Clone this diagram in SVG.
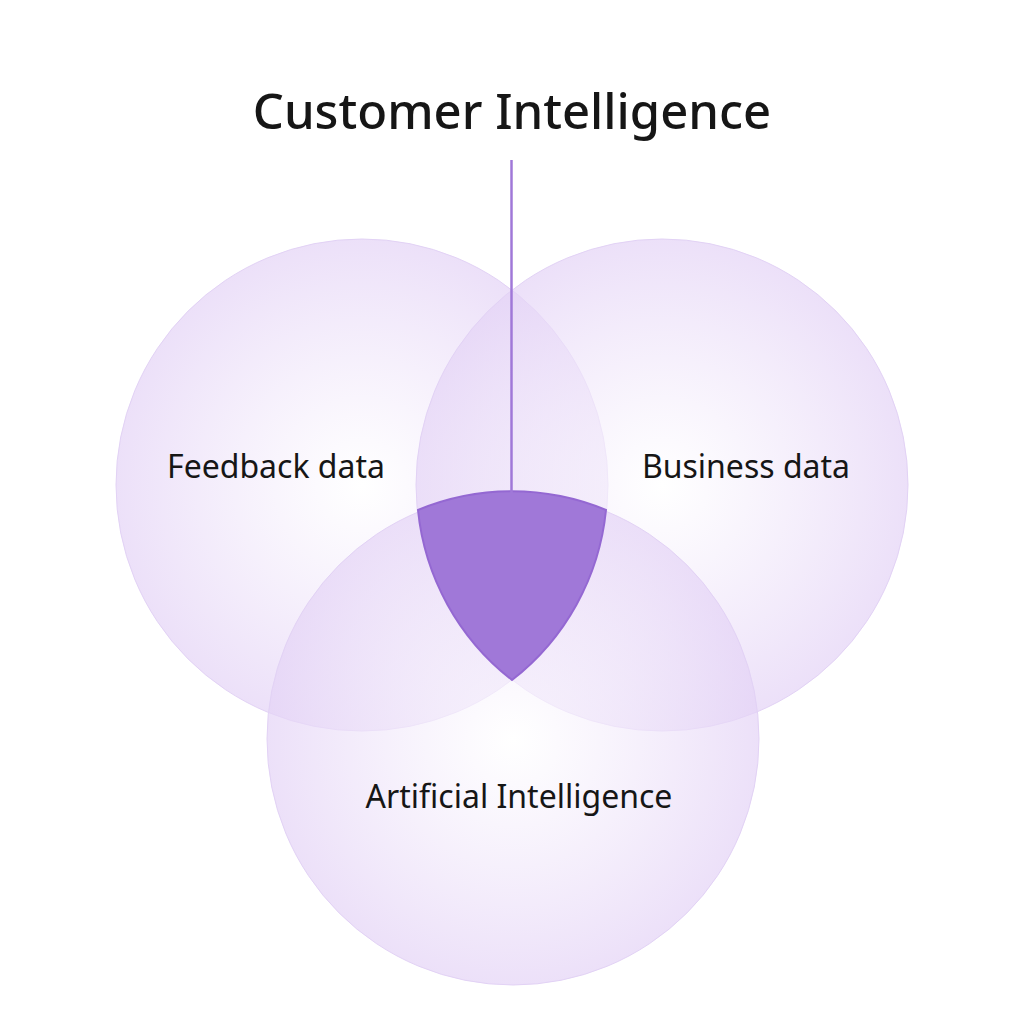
<svg xmlns="http://www.w3.org/2000/svg" width="1024" height="1024" viewBox="0 0 1024 1024">
<defs>
<radialGradient id="g" cx="0.5" cy="0.5" r="0.5">
<stop offset="0" stop-color="#ffffff" stop-opacity="0.6"/>
<stop offset="1" stop-color="#e4d3f6" stop-opacity="0.7"/>
</radialGradient>
<style>
.c{fill:url(#g);stroke:#e2d2f5;stroke-width:1}
.t{font-family:"Noto Sans","Inter",sans-serif;fill:#161616}
</style>
</defs>
<rect width="1024" height="1024" fill="#fff"/>
<g id="feedback"><circle class="c" cx="362" cy="485" r="246"/><text class="t" x="276" y="478" font-size="32" text-anchor="middle">Feedback data</text></g>
<g id="business"><circle class="c" cx="662" cy="485" r="246"/><text class="t" x="746" y="478" font-size="32" text-anchor="middle">Business data</text></g>
<g id="ai"><circle class="c" cx="513" cy="739" r="246"/><text class="t" x="519" y="808" font-size="32" text-anchor="middle">Artificial Intelligence</text></g>
<g id="core"><path d="M418,510 A246,246 0 0 1 606,510 A246,246 0 0 1 512,680 A246,246 0 0 1 418,510 Z" fill="#a078d8" stroke="#9468d2" stroke-width="2"/></g>
<g id="connectors"><line x1="511.5" y1="160" x2="511.5" y2="494" stroke="#a078d8" stroke-width="2.5"/></g>
<g id="title"><text class="t" x="512" y="129" font-size="49" font-weight="500" text-anchor="middle">Customer Intelligence</text></g>
</svg>
